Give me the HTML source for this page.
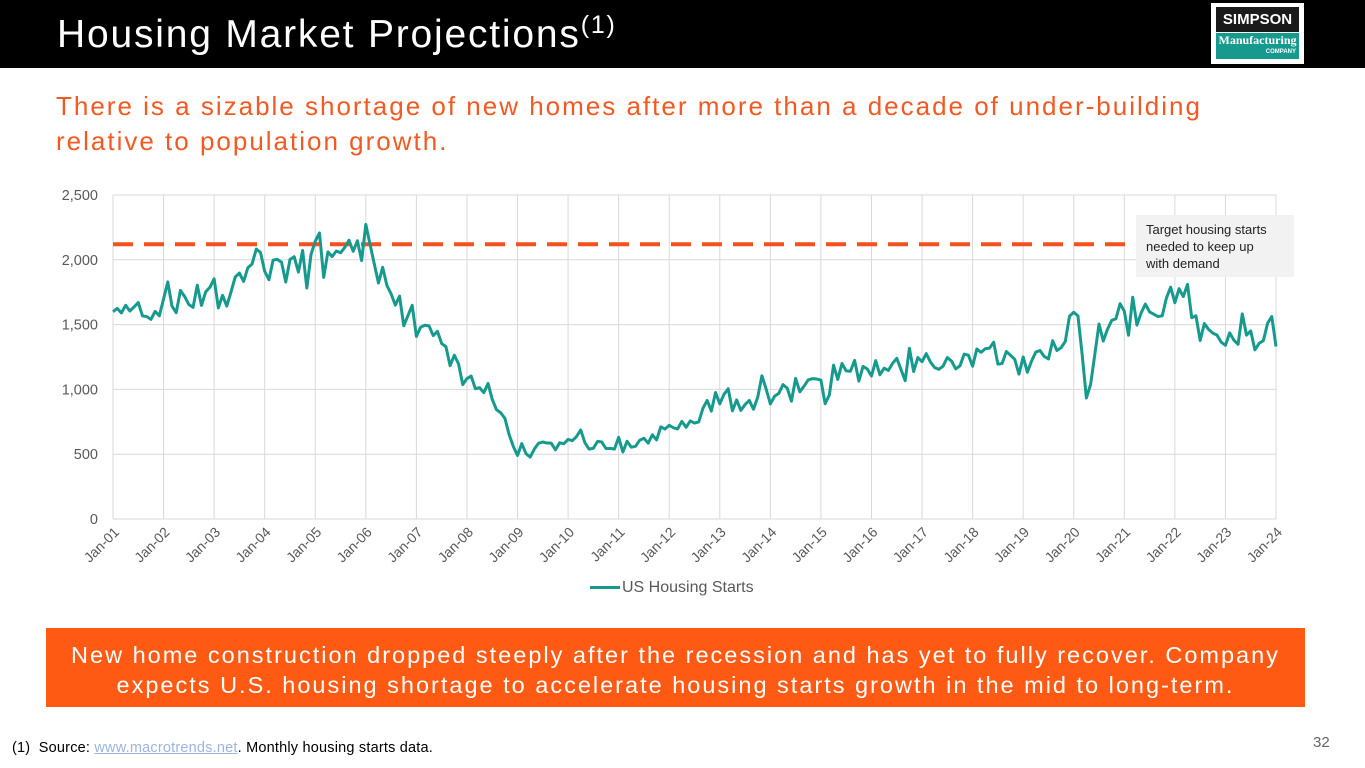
<!DOCTYPE html>
<html><head><meta charset="utf-8"><style>
body{margin:0;width:1365px;height:768px;position:relative;background:#fff;font-family:"Liberation Sans",Arial,sans-serif;overflow:hidden}
.abs{position:absolute}
</style></head><body>
<div class="abs" style="left:0;top:0;width:1365px;height:68px;background:#000"></div>
<div class="abs" style="left:57px;top:11px;color:#fff;font-size:39px;letter-spacing:1.8px;white-space:nowrap">Housing Market Projections<sup style="font-size:25px;vertical-align:14px">(1)</sup></div>
<div class="abs" style="left:1211px;top:3px;width:93px;height:61px;background:#fff">
 <div style="position:absolute;left:5px;top:4px;width:83px;height:25px;background:#1a1a1a;color:#fff;font-weight:bold;font-size:15px;text-align:center;line-height:25px">SIMPSON</div>
 <div style="position:absolute;left:5px;top:30px;width:83px;height:26px;background:#179a8e;color:#fff;font-family:'Liberation Serif',serif;font-weight:bold;font-size:12px;text-align:center;line-height:15px">Manufacturing<div style="font-family:'Liberation Sans',sans-serif;font-size:6px;text-align:right;padding-right:3px;line-height:8px">COMPANY</div></div>
</div>
<div class="abs" style="left:56px;top:89px;color:#F15A22;font-size:26px;line-height:35px;letter-spacing:2px;white-space:nowrap">There is a sizable shortage of new homes after more than a decade of under-building<br>relative to population growth.</div>

<svg class="abs" style="left:0;top:0" width="1365" height="768">
<g id="grid"></g><g id="axes"></g><g id="series"></g>
</svg>
<div class="abs" style="left:1136px;top:215px;width:158px;height:62px;background:#f2f2f2;padding:6px 0 0 10px;box-sizing:border-box;font-size:13px;line-height:17px;color:#222">Target housing starts<br>needed to keep up<br>with demand</div>
<div class="abs" style="left:590px;top:579px;font-size:16px;color:#595959"><span style="display:inline-block;width:30px;height:3px;background:#179a8e;vertical-align:middle;margin-right:2px"></span>US Housing Starts</div>

<div class="abs" style="left:46px;top:628px;width:1259px;height:79px;background:#FF5A14;color:#fff;font-size:23.5px;line-height:30px;text-align:center;padding-top:12px;box-sizing:border-box;letter-spacing:2px;white-space:nowrap">New home construction dropped steeply after the recession and has yet to fully recover. Company<br>expects U.S. housing shortage to accelerate housing starts growth in the mid to long-term.</div>
<div class="abs" style="left:12px;top:740px;font-size:14.5px;color:#000;letter-spacing:0.2px">(1)&nbsp; Source: <span style="color:#9bb5e0;text-decoration:underline">www.macrotrends.net</span>. Monthly housing starts data.</div>
<div class="abs" style="left:1313px;top:734px;font-size:15px;color:#666">32</div>

<script>
const yTicks=[0,500,1000,1500,2000,2500];
const yearLabels=['Jan-01','Jan-02','Jan-03','Jan-04','Jan-05','Jan-06','Jan-07','Jan-08','Jan-09','Jan-10','Jan-11','Jan-12','Jan-13','Jan-14','Jan-15','Jan-16','Jan-17','Jan-18','Jan-19','Jan-20','Jan-21','Jan-22','Jan-23','Jan-24'];
const targetStarts=2120;
const starts=[
1600,1625,1590,1649,1605,1636,1670,1567,1562,1540,1602,1568,
1698,1829,1642,1592,1764,1717,1655,1633,1804,1648,1753,1788,
1853,1629,1726,1643,1751,1867,1897,1833,1939,1967,2083,2057,
1911,1846,1998,2003,1981,1828,2002,2024,1905,2072,1782,2042,
2144,2207,1864,2061,2025,2068,2054,2095,2151,2065,2147,1994,
2273,2119,1969,1821,1942,1802,1737,1650,1720,1491,1570,1649,
1409,1480,1495,1490,1415,1448,1354,1330,1183,1264,1197,1037,
1084,1103,1005,1013,975,1046,923,844,820,777,652,560,
490,582,505,478,540,585,594,586,585,534,588,581,
614,604,636,687,588,539,546,599,594,543,545,539,
630,517,600,554,561,608,623,585,650,610,711,694,
723,704,695,753,708,757,740,749,854,915,833,976,
888,962,1005,835,919,838,883,915,847,939,1105,1003,
888,947,969,1037,1010,909,1085,981,1025,1074,1083,1080,
1072,889,957,1187,1077,1200,1143,1140,1224,1064,1177,1158,
1104,1222,1113,1164,1146,1200,1240,1154,1067,1317,1138,1246,
1214,1276,1211,1168,1155,1180,1246,1218,1158,1182,1272,1264,
1179,1312,1286,1314,1318,1364,1195,1200,1292,1263,1232,1118,
1250,1133,1219,1288,1300,1254,1235,1376,1300,1321,1371,1565,
1595,1567,1269,934,1038,1269,1505,1373,1463,1532,1545,1661,
1604,1418,1711,1496,1591,1658,1598,1580,1562,1568,1706,1789,
1669,1777,1716,1810,1553,1568,1377,1508,1463,1434,1419,1364,
1340,1436,1380,1348,1583,1418,1451,1305,1356,1376,1510,1562,
1331];
const L=113,R=1276,T=195,B=519,NS='http://www.w3.org/2000/svg';
const xS=i=>L+(R-L)*i/((yearLabels.length-1)*12);
const yS=v=>B-(B-T)*v/2500;
function mk(tag,attrs,parent){const e=document.createElementNS(NS,tag);for(const k in attrs)e.setAttribute(k,attrs[k]);document.getElementById(parent).appendChild(e);return e;}
yTicks.forEach(t=>{
 const l=mk('line',{x1:L,x2:R,y1:yS(t),y2:yS(t),stroke:'#d9d9d9','stroke-width':1},'grid');
 
 
 const tx=mk('text',{x:L-15,y:yS(t)+5,'text-anchor':'end','font-size':14.5,fill:'#595959','font-family':'Liberation Sans, sans-serif'},'axes');
 tx.textContent=t.toLocaleString('en-US');
 
 
});
yearLabels.forEach((lab,k)=>{
 const x=xS(k*12);
 const l=mk('line',{x1:x,x2:x,y1:T,y2:B,stroke:'#d9d9d9','stroke-width':1},'grid');
 
 
 const tx=mk('text',{x:x+7,y:B+14,'text-anchor':'end','font-size':14,fill:'#595959','font-family':'Liberation Sans, sans-serif',transform:`rotate(-45 ${x+7} ${B+14})`},'axes');
 tx.textContent=lab;
 
 
});
const tl=mk('line',{x1:L,x2:1136,y1:yS(targetStarts),y2:yS(targetStarts),stroke:'#F4511E','stroke-width':4,'stroke-dasharray':'20 11'},'series');


const p=mk('polyline',{points:starts.map((v,i)=>xS(i)+','+yS(v)).join(' '),fill:'none',stroke:'#179a8e','stroke-width':3,'stroke-linejoin':'round'},'series');


</script>
</body></html>
